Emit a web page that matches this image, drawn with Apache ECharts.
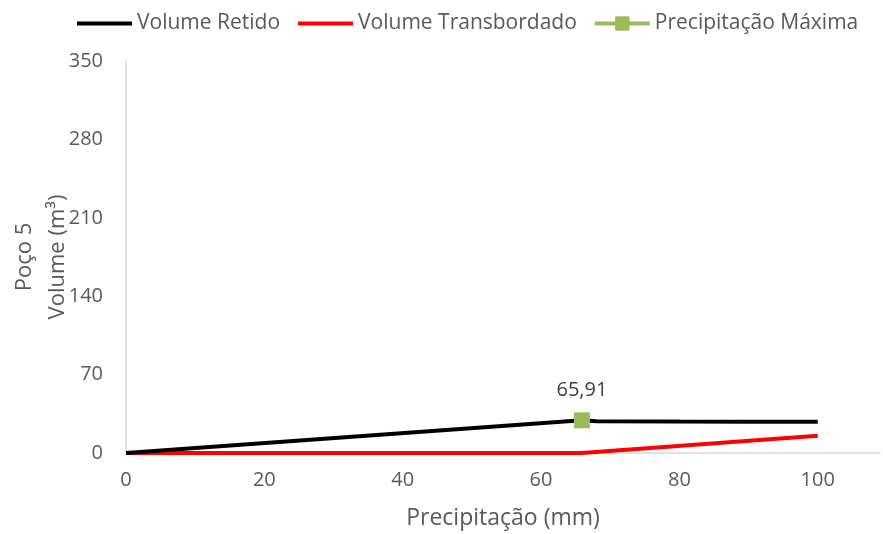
<!DOCTYPE html>
<html><head><meta charset="utf-8">
<script src="https://cdn.jsdelivr.net/npm/echarts@6/dist/echarts.min.js"></script>
<style>html,body{margin:0;padding:0;background:#fff}#c{width:883px;height:534px}</style>
</head><body><div id="c"></div>
<script>
const xTicks = [0, 20, 40, 60, 80, 100];
const yTicks = [0, 70, 140, 210, 280, 350];
const retidoX = [0, 65.91, 68, 80, 90, 100];
const retidoY = [0, 29.2, 28.3, 28.1, 28.0, 28.0];
const transX = [0, 65.91, 100];
const transY = [0, 0, 15.5];
const maxX = [65.91];
const maxY = [29.2];
const maxLabel = ['65,91'];

const font = 'Open Sans';
const grey = '#595959';
const chart = echarts.init(document.getElementById('c'));
chart.setOption({
  animation: false,
  textStyle: {fontFamily: font},
  legend: {
    top: 8, left: 70, width: 813, itemWidth: 55, itemHeight: 18, itemGap: 16,
    textStyle: {fontFamily: font, fontSize: 21, color: grey},
    lineStyle: {width: 4},
    data: [
      {name: 'Volume Retido', itemStyle: {opacity: 0}},
      {name: 'Volume Transbordado', itemStyle: {opacity: 0}},
      {name: 'Precipitação Máxima'}
    ]
  },
  grid: {left: 126, right: 3, top: 61, bottom: 81, outerBoundsMode: 'none', containLabel: false},
  xAxis: {
    type: 'value', min: 0, max: 109, interval: 20,
    name: 'Precipitação (mm)', nameLocation: 'middle', nameGap: 54,
    nameTextStyle: {fontFamily: font, fontSize: 23, color: grey},
    axisLine: {show: true, lineStyle: {color: '#D9D9D9', width: 1.5}},
    axisTick: {show: false}, splitLine: {show: false},
    axisLabel: {fontFamily: font, fontSize: 20, color: grey, margin: 17, showMaxLabel: false,
      formatter: v => xTicks.includes(v) ? String(v) : ''}
  },
  yAxis: {
    type: 'value', min: 0, max: 350, interval: 70,
    name: 'Poço 5\nVolume (m³)', nameLocation: 'middle', nameGap: 52, nameRotate: 90,
    nameMoveOverlap: false,
    nameTextStyle: {fontFamily: font, fontSize: 22, color: grey, lineHeight: 33},
    axisLine: {show: true, lineStyle: {color: '#D9D9D9', width: 1.5}},
    axisTick: {show: false}, splitLine: {show: false},
    axisLabel: {fontFamily: font, fontSize: 20, color: grey, margin: 23,
      formatter: v => yTicks.includes(v) ? String(v) : ''}
  },
  series: [
    {name: 'Volume Retido', type: 'line', symbol: 'none',
     data: retidoX.map((x, i) => [x, retidoY[i]]),
     lineStyle: {color: '#000', width: 4}, itemStyle: {color: '#000'}, z: 3},
    {name: 'Volume Transbordado', type: 'line', symbol: 'none',
     data: transX.map((x, i) => [x, transY[i]]),
     lineStyle: {color: '#FF0000', width: 4}, itemStyle: {color: '#FF0000'}, z: 2},
    {name: 'Precipitação Máxima', type: 'line', symbol: 'rect', symbolSize: 16,
     data: maxX.map((x, i) => [x, maxY[i]]),
     lineStyle: {color: '#9BBB59', width: 4}, itemStyle: {color: '#9BBB59'}, z: 5,
     label: {show: true, position: 'top', distance: 12, fontFamily: font, fontSize: 20, color: '#404040',
       formatter: p => maxLabel[p.dataIndex]}}
  ]
});
</script></body></html>
